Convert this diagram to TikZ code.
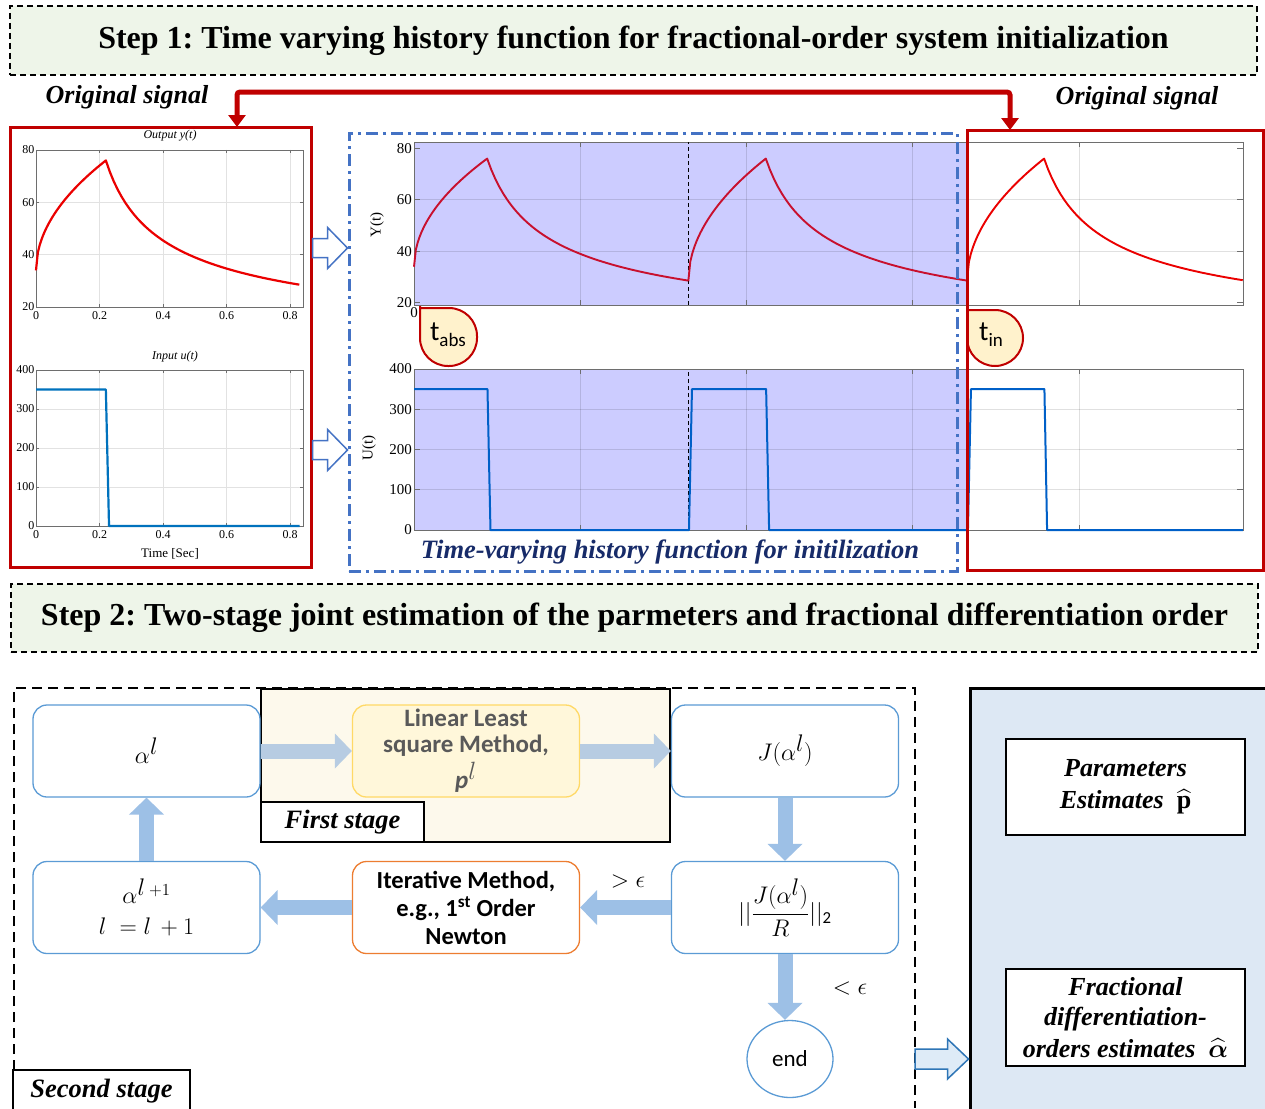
\RequirePackage{fix-cm}
\documentclass[tikz,border=0pt]{standalone}
\usepackage{amsmath}
\usepackage{fontspec}
\setmainfont{Liberation Serif}
\newfontfamily\calfont{Carlito}
\usetikzlibrary{arrows.meta,calc,shapes.geometric}
\frenchspacing
\definecolor{stepgreen}{RGB}{238,245,233}
\definecolor{dred}{RGB}{192,0,0}
\definecolor{dashblue}{RGB}{68,114,196}
\definecolor{lav}{RGB}{204,204,255}
\definecolor{crim}{RGB}{200,16,46}
\definecolor{mred}{RGB}{235,0,0}
\definecolor{mblue}{RGB}{0,96,200}
\definecolor{lblue}{RGB}{0,114,189}
\definecolor{navy}{RGB}{23,43,105}
\definecolor{bubble}{RGB}{255,242,204}
\definecolor{boxblue}{RGB}{91,155,213}
\definecolor{yelbord}{RGB}{255,217,102}
\definecolor{yelfill}{RGB}{255,247,218}
\definecolor{cream}{RGB}{253,249,236}
\definecolor{orbord}{RGB}{237,125,49}
\definecolor{arrA}{RGB}{183,204,226}
\definecolor{arrB}{RGB}{157,192,230}
\definecolor{rfill}{RGB}{221,232,244}
\definecolor{hfill}{RGB}{222,235,247}
\definecolor{hbord}{RGB}{46,117,182}
\definecolor{gridc}{RGB}{226,226,226}
\definecolor{axc}{RGB}{110,110,110}
\definecolor{textgray}{RGB}{89,89,89}
\tikzset{
  stepbox/.style={draw=black, dash pattern=on 6pt off 4pt, line width=1.6pt, fill=stepgreen, inner sep=0pt},
  redbox/.style={draw=dred, line width=3pt, inner sep=0pt},
  bifont/.style={font=\fontsize{26}{30}\selectfont\bfseries\itshape, inner sep=0pt},
  gridl/.style={draw=gridc, line width=0.7pt},
  gridm/.style={draw=black, opacity=0.12, line width=0.8pt},
  axl/.style={draw=axc, line width=0.8pt},
  tickS/.style={font=\fontsize{12}{13}\selectfont, inner sep=1.5pt},
  tickM/.style={font=\fontsize{15}{16}\selectfont, inner sep=2pt},
  flowbox/.style={draw=boxblue, line width=1.3pt, rounded corners=14pt, fill=white, minimum width=227pt, minimum height=92pt, align=center, inner sep=2pt, font=\fontsize{24}{29}\selectfont},
  farrA/.style={line width=15pt, draw=arrA, -{Triangle[width=34pt,length=17pt]}},
  farrB/.style={line width=15pt, draw=arrB, -{Triangle[width=34pt,length=17pt]}},
  hollow/.style={draw=dashblue, fill=white, line width=1.5pt, line join=miter},
  redarrow/.style={draw=dred, line width=5pt, rounded corners=3pt, {Triangle[width=17pt,length=12pt]}-{Triangle[width=17pt,length=12pt]}},
  resbox/.style={draw=black, line width=2pt, fill=white, align=center, inner sep=0pt, font=\fontsize{26}{30}\selectfont\bfseries\itshape},
  stagelab/.style={draw=black, line width=2pt, fill=white, inner sep=0pt, font=\fontsize{26.5}{30}\selectfont\bfseries\itshape},
}
% rise-and-decay cycle: t0, tpeak, tend, y0, style
\newcommand\ycycle[5]{\draw[#5, line join=round] plot[domain=#1:#2, samples=40] (\x,{#4-20+(76-#4)*sqrt(abs((\x-#1)/(#2-#1)))}) -- plot[domain=#2:#3, samples=50] (\x,{76*(1+(\x-#2)/0.1)^(-0.5)-20});}
% block arrow pointing right: start, tip, body half, head half, head length, style
\newcommand\blockR[6]{\draw[#6] let \p1=(#1), \p2=(#2) in (\x1,{\y1+#3}) -- ({\x2-#5},{\y1+#3}) -- ({\x2-#5},{\y1+#4}) -- (\x2,\y1) -- ({\x2-#5},{\y1-#4}) -- ({\x2-#5},{\y1-#3}) -- (\x1,{\y1-#3}) -- cycle;}
\begin{document}
\begin{tikzpicture}[x=1pt,y=-1pt]
\useasboundingbox (0,0) rectangle (1265,1108);
\fill[white] (0,0) rectangle (1265,1108);

% ---------------- STEP 1 ----------------
\node[stepbox, minimum width=1247pt, minimum height=69pt] (step1) at (633.5,40.5) {\fontsize{32}{36}\selectfont\bfseries Step 1: Time varying history function for fractional-order system initialization};
\node[bifont] (os1) at (127,97) {Original signal};
\node[bifont] (os2) at (1137,98) {Original signal};

% ---------------- left plots ----------------
\begin{scope}[shift={(36,307)}, x=317.5pt, y=2.6167pt]
  \foreach \t in {0.2,0.4,0.6,0.8} \draw[gridl] (\t,0) -- (\t,60);
  \foreach \v in {20,40} \draw[gridl] (0,\v) -- (0.841,\v);
  \draw[axl] (0,0) rectangle (0.841,60);
  \foreach \t in {0.2,0.4,0.6,0.8} {\draw[axl] (\t,0) -- ++(0,3pt); \draw[axl] (\t,60) -- ++(0,-3pt);}
  \foreach \v in {20,40} {\draw[axl] (0,\v) -- ++(3pt,0); \draw[axl] (0.841,\v) -- ++(-3pt,0);}
  \foreach \t/\l [count=\i] in {0/0,0.2/0.2,0.4/0.4,0.6/0.6,0.8/0.8} \node[tickS, anchor=north, yshift=-3pt] (lxa\i) at (\t,0) {\l};
  \foreach \v/\l [count=\i] in {0/20,20/40,40/60,60/80} \node[tickS, anchor=east] (lya\i) at (0,\v) {\l};
  \ycycle{0}{0.22}{0.83}{34}{mred, line width=2.2pt}
\end{scope}
\node[font=\fontsize{12}{13}\selectfont\itshape, inner sep=0pt] (ttl1) at (170,136) {Output y(t)};

\begin{scope}[shift={(36,526)}, x=317.5pt, y=0.39pt]
  \foreach \t in {0.2,0.4,0.6,0.8} \draw[gridl] (\t,0) -- (\t,400);
  \foreach \v in {100,200,300} \draw[gridl] (0,\v) -- (0.841,\v);
  \draw[axl] (0,0) rectangle (0.841,400);
  \foreach \t in {0.2,0.4,0.6,0.8} {\draw[axl] (\t,0) -- ++(0,3pt); \draw[axl] (\t,400) -- ++(0,-3pt);}
  \foreach \v in {100,200,300} {\draw[axl] (0,\v) -- ++(3pt,0); \draw[axl] (0.841,\v) -- ++(-3pt,0);}
  \foreach \t/\l [count=\i] in {0/0,0.2/0.2,0.4/0.4,0.6/0.6,0.8/0.8} \node[tickS, anchor=north, yshift=-3pt] (lxb\i) at (\t,0) {\l};
  \foreach \v [count=\i] in {0,100,200,300,400} \node[tickS, anchor=east] (lyb\i) at (0,\v) {\v};
  \draw[lblue, line width=2.2pt, line join=round] (0,350) -- (0.22,350) -- (0.23,0) -- (0.83,0);
\end{scope}
\node[font=\fontsize{12}{13}\selectfont\itshape, inner sep=0pt] (ttl2) at (175,357) {Input u(t)};
\node[font=\fontsize{13}{14}\selectfont, inner sep=0pt] (xlab) at (170,554) {Time [Sec]};

% ---------------- middle / right plots ----------------
\begin{scope}[shift={(414,302.8)}, x=332.5pt, y=2.575pt]
  \fill[lav] (0,-0.85) rectangle (1.663,62.3);
  \foreach \t in {0.5,1,1.5,2} \draw[gridm] (\t,-0.85) -- (\t,62.3);
  \foreach \v in {20,40} \draw[gridm] (0,\v) -- (2.493,\v);
  \draw[axl] (0,-0.85) rectangle (2.493,62.3);
  \foreach \t in {0.5,1,1.5,2} {\draw[axl] (\t,-0.85) -- ++(0,5pt); \draw[axl] (\t,62.3) -- ++(0,-5pt);}
  \foreach \v in {0,20,40,60} {\draw[axl] (0,\v) -- ++(6pt,0); \draw[axl] (2.493,\v) -- ++(-6pt,0);}
  \draw[black, dash pattern=on 4pt off 3pt, line width=1.2pt] (0.825,-0.85) -- (0.825,62.3);
  \ycycle{0}{0.22}{0.825}{34}{crim, line width=1.9pt}
  \ycycle{0.825}{1.058}{1.663}{28.4}{crim, line width=1.9pt}
  \ycycle{1.663}{1.895}{2.493}{28.3}{mred, line width=1.9pt}
  \foreach \v/\l [count=\i] in {0/20,20/40,40/60,60/80} \node[tickM, anchor=east] (mya\i) at (0,\v) {\l};
  \node[tickM, anchor=north] (mxa) at (0,-0.85) {0};
\end{scope}
\node[tickM, rotate=90] (ylab) at (377,225) {Y(t)};

\begin{scope}[shift={(414,530)}, x=332.5pt, y=0.4025pt]
  \fill[lav] (0,0) rectangle (1.663,400);
  \foreach \t in {0.5,1,1.5,2} \draw[gridm] (\t,0) -- (\t,400);
  \foreach \v in {100,200,300} \draw[gridm] (0,\v) -- (2.493,\v);
  \draw[axl] (0,0) rectangle (2.493,400);
  \foreach \t in {0.5,1,1.5,2} {\draw[axl] (\t,0) -- ++(0,5pt); \draw[axl] (\t,400) -- ++(0,-5pt);}
  \foreach \v in {100,200,300} {\draw[axl] (0,\v) -- ++(6pt,0); \draw[axl] (2.493,\v) -- ++(-6pt,0);}
  \draw[black, dash pattern=on 4pt off 3pt, line width=1.2pt] (0.825,0) -- (0.825,400);
  \draw[mblue, line width=2pt, line join=round] (0,350) -- (0.221,350) -- (0.230,0) -- (0.827,0) -- (0.836,350) -- (1.059,350) -- (1.068,0) -- (1.666,0) -- (1.675,350) -- (1.896,350) -- (1.904,0) -- (2.493,0);
  \foreach \v [count=\i] in {0,100,200,300,400} \node[tickM, anchor=east] (myb\i) at (0,\v) {\v};
\end{scope}
\node[tickM, rotate=90] (ulab) at (369,448) {U(t)};

% t_abs and t_in bubbles
\draw[draw=dred, fill=bubble, line width=2pt, rounded corners=28pt] (420,308) -- (477,308) -- (477,366) -- (420,366) -- (420,306);
\node[inner sep=0pt] (tabs) at (448,335) {\calfont\fontsize{28}{30}\selectfont t\raisebox{-6pt}{\fontsize{19}{20}\selectfont abs}};
\draw[draw=dred, fill=bubble, line width=2pt, rounded corners=28pt] (967,310) -- (1023,310) -- (1023,366) -- (967,366) -- (967,308);
\node[inner sep=0pt] (tin) at (991,335) {\calfont\fontsize{28}{30}\selectfont t\raisebox{-6pt}{\fontsize{19}{20}\selectfont in}};

\node[font=\fontsize{26.5}{30}\selectfont\bfseries\itshape, text=navy, inner sep=0pt] (tvh) at (670,552) {Time-varying history function for initilization};

% frames
\node[redbox, minimum width=301pt, minimum height=440pt] (lbox) at (160.5,347) {};
\node[draw=dashblue, line width=3pt, dash pattern=on 12pt off 5pt on 3pt off 5pt, minimum width=608pt, minimum height=438pt, inner sep=0pt] (mbox) at (653,352) {};
\node[redbox, minimum width=296pt, minimum height=440pt] (rbox) at (1115,350) {};

% connectors of step 1
\coordinate (ra1) at (237,127);
\coordinate (ra2) at (1010,130);
\draw[redarrow] (ra1) -- ++(0,-35) -| (ra2);
\blockR{lbox.east |- 0,248}{mbox.west |- 0,247}{9.5pt}{20.5pt}{20pt}{hollow}
\blockR{lbox.east |- 0,450}{mbox.west |- 0,449}{9.5pt}{20.5pt}{20pt}{hollow}

% ---------------- STEP 2 ----------------
\node[stepbox, minimum width=1247pt, minimum height=68pt] (step2) at (634.5,618) {\fontsize{32}{36}\selectfont\bfseries Step 2: Two-stage joint estimation of the parmeters and fractional differentiation order};

% second-stage frame
\draw[black, line width=1.5pt, dash pattern=on 10pt off 6pt] (14,1070) -- (14,688) -- (915,688) -- (915,1108);
\coordinate (bfr) at (915,1059);
\node[stagelab, minimum width=177pt, minimum height=42pt] (sstage) at (101.5,1091) {Second stage};

% first-stage frame
\node[draw=black, line width=2.5pt, fill=cream, minimum width=409pt, minimum height=153pt, inner sep=0pt] (fsbox) at (465.5,765.5) {};
\node[stagelab, minimum width=163pt, minimum height=40pt] (fstage) at (342.5,822) {First stage};

% results box
\node[draw=black, line width=3pt, fill=rfill, minimum width=298pt, minimum height=423pt, inner sep=0pt] (rres) at (1119,899.5) {};
\node[resbox, minimum width=239pt, minimum height=96pt] (pest) at (1125.5,787) {Parameters\\[2pt]Estimates\ \ $\widehat{\mathbf{p}}$};
\node[resbox, minimum width=239pt, minimum height=97pt] (aest) at (1125.5,1017.5) {Fractional\\differentiation-\\[2pt]orders estimates\ \ $\widehat{\boldsymbol{\alpha}}$};

% flow nodes
\node[flowbox] (a1) at (146.5,751) {$\alpha^{\textstyle l}$};
\node[flowbox, draw=yelbord, fill=yelfill, font=\calfont\fontsize{25}{26}\selectfont\bfseries, text=textgray] (lls) at (466,751) {Linear Least\\square Method,\\[5pt]\textit{p}$^{\textstyle l}$};
\node[flowbox] (jb) at (785,751) {$J(\alpha^{\textstyle l})$};
\node[flowbox] (nrm) at (785,907.5) {$\displaystyle ||\frac{J(\alpha^{\textstyle l})}{R}||_{\text{\calfont 2}}$};
\node[flowbox, draw=orbord, font=\calfont\fontsize{24.5}{28}\selectfont\bfseries] (itr) at (466,907.5) {Iterative Method,\\e.g., 1\textsuperscript{st} Order\\Newton};
\node[flowbox, font=\fontsize{24}{31}\selectfont] (a2) at (146.5,907.5) {$\alpha^{\textstyle l\,\scriptstyle +1}$\\$l\; = l\, + 1$};
\node[ellipse, draw=boxblue, line width=1.3pt, fill=white, minimum width=86pt, minimum height=77pt, inner sep=0pt, font=\calfont\fontsize{23}{25}\selectfont] (endn) at (790,1059) {end};

% flow arrows
\draw[farrA] (a1.east) -- (lls.west);
\draw[farrA] (lls.east) -- (jb.west);
\draw[farrB] (jb.south) -- (nrm.north);
\draw[farrB] (nrm.west) -- (itr.east);
\draw[farrB] (itr.west) -- (a2.east);
\draw[farrB] (a2.north) -- (a1.south);
\draw[farrB] (nrm.south) -- (nrm.south |- endn.north);
\node[font=\fontsize{24}{26}\selectfont, inner sep=0pt] (gt) at (628,881) {$>\epsilon$};
\node[font=\fontsize{24}{26}\selectfont, inner sep=0pt] (lt) at (850,988) {$<\epsilon$};

% output arrow
\blockR{bfr}{rres.west |- bfr}{10pt}{20pt}{21pt}{hollow, draw=hbord, fill=hfill}
\end{tikzpicture}
\end{document}
